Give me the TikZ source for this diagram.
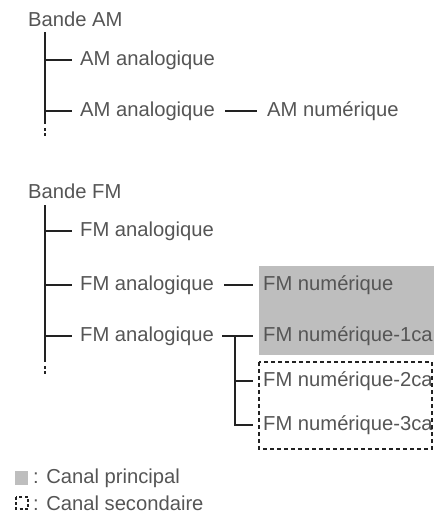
\documentclass[tikz,border=0pt]{standalone}
\usepackage{fontspec}
\setmainfont{Liberation Sans}
\usetikzlibrary{calc}
\definecolor{txt}{HTML}{555555}
\definecolor{ln}{HTML}{222222}
\definecolor{boxgray}{HTML}{BEBEBE}
\tikzset{
  lbl/.style={anchor=west, inner sep=0pt, text=txt, font=\fontsize{20.2}{23}\selectfont},
  tree/.style={draw=ln, line width=2.4pt},
  brch/.style={draw=ln, line width=2.4pt, shorten >=8pt},
  dsh/.style={draw=ln, line width=2.4pt, shorten <=10pt, shorten >=10pt},
  secbox/.style={draw=ln, line width=2pt, dash pattern=on 4pt off 3pt},
  dotmark/.style={fill=ln, draw=none}
}
\begin{document}
\begin{tikzpicture}[x=1pt,y=-1pt]
\useasboundingbox (0,0) rectangle (435,515);
% ---------- AM ----------
\node[lbl] (bam) at (28,19) {Bande AM};
\coordinate (amtop) at (45,32);
\coordinate (amend) at (45,124);
\node[lbl] (a1) at (80,60) {AM analogique};
\node[lbl] (a2) at (80,111) {AM analogique};
\node[lbl] (an) at (267,111) {AM numérique};
\draw[tree] (amtop) -- (amend);
\draw[brch] (amtop |- a1.west) -- (a1.west);
\draw[brch] (amtop |- a2.west) -- (a2.west);
\draw[dsh] (a2.east) -- (an.west);
\fill[dotmark] (43.8,128) rectangle (46.2,130.5);
\fill[dotmark] (43.8,133) rectangle (46.2,135.5);
% ---------- FM ----------
\node[lbl] (bfm) at (28,191) {Bande FM};
\coordinate (fmtop) at (45,205);
\coordinate (fmend) at (45,362);
\fill[boxgray] (259,266) rectangle (434,355);
\node[lbl] (f1) at (80,231) {FM analogique};
\node[lbl] (f2) at (80,285) {FM analogique};
\node[lbl] (f3) at (80,336) {FM analogique};
\node[lbl] (fn) at (263,285) {FM numérique};
\node[lbl] (fn1) at (263,336) {FM numérique-1ca};
\node[lbl] (fn2) at (263,381) {FM numérique-2ca};
\node[lbl] (fn3) at (263,425) {FM numérique-3ca};
\draw[tree] (fmtop) -- (fmend);
\draw[brch] (fmtop |- f1.west) -- (f1.west);
\draw[brch] (fmtop |- f2.west) -- (f2.west);
\draw[brch] (fmtop |- f3.west) -- (f3.west);
\draw[dsh] (f2.east) -- (fn.west);
\coordinate (tj) at (235,336);
\draw[draw=ln, line width=2.4pt, shorten <=8pt, shorten >=10pt] (f3.east) -- (fn1.west);
\draw[tree] (tj) -- (tj |- fn3.west) -- ([xshift=-10pt]fn3.west);
\draw[tree] (tj |- fn2.west) -- ([xshift=-10pt]fn2.west);
\draw[secbox] (259,362) rectangle (432,449);
\fill[dotmark] (43.8,366) rectangle (46.2,368.5);
\fill[dotmark] (43.8,371) rectangle (46.2,373.5);
% ---------- legend ----------
\fill[boxgray] (15,471) rectangle (28,485);
\node[lbl] (lg1) at (33,478) {: Canal principal};
\draw[secbox, line width=2.2pt, dash pattern=on 3pt off 2.2pt] (16,497) rectangle (28,509);
\node[lbl] (lg2) at (33,503) {: Canal secondaire};
\end{tikzpicture}
\end{document}
